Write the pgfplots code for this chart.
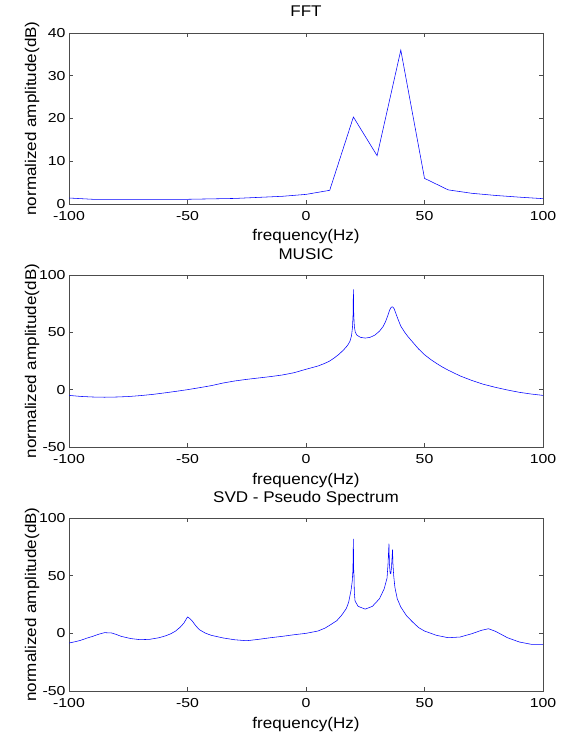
\documentclass[border=0pt]{standalone}
\usepackage{fontspec}
\setmainfont{Liberation Sans}
\newfontfamily\lblfont[FakeStretch=1.1]{Liberation Sans}
\newfontfamily\tickfont[FakeStretch=1.22]{Liberation Sans}
\usepackage{pgfplots}
\pgfplotsset{compat=1.18}
\begin{document}
\begin{tikzpicture}
\path[use as bounding box] (0pt,0pt) rectangle (564pt,-733pt);
\pgfplotsset{
  every axis/.append style={
    scale only axis, width=474pt,
    xmin=-100, xmax=100, xtick={-100,-50,0,50,100},
    tick align=inside, major tick length=4pt,
    /pgf/number format/assume math mode=true,
    tick label style={font=\tickfont\fontsize{13}{15}\selectfont},
    xticklabel style={yshift=-3.5pt},
    label style={font=\lblfont\fontsize{15.5}{18}\selectfont},
    title style={font=\lblfont\fontsize{15.5}{18}\selectfont, at={(axis description cs:0.5,1)}, anchor=base, yshift=10pt},
    xlabel={frequency(Hz)}, ylabel={normalized amplitude(dB)},
    xlabel style={at={(axis description cs:0.5,0)}, anchor=base, yshift=-37pt},
    ylabel style={at={(axis description cs:-0.078,0.5)}, anchor=center},
    axis line style={black!70, line width=0.6pt},
    every tick/.style={black!70, line width=0.6pt},
    anchor=north west,
  },
}
\begin{axis}[at={(69pt,-33pt)}, height=171pt, ymin=0, ymax=40, ytick={0,10,20,30,40}, title={FFT}]
\addplot[blue, line width=0.55pt] coordinates {
(-100,1.4)(-90,1.1)(-80,1.1)(-70,1.1)(-60,1.1)(-50,1.1)(-40,1.2)(-30,1.3)(-20,1.55)(-10,1.8)(0,2.25)(10,3.2)(20,20.35)(30,11.3)(40,36.0)(50,6.0)(60,3.3)(70,2.5)(80,2.0)(90,1.6)(100,1.25)};
\end{axis}
\begin{axis}[at={(69pt,-275pt)}, height=172pt, ymin=-50, ymax=100, ytick={-50,0,50,100}, title={MUSIC}]
\addplot[blue, line width=0.55pt] coordinates {
(-100,-5)(-95,-5.9)(-90,-6.4)(-85,-6.6)(-80,-6.4)(-75,-6)(-70,-5.2)(-65,-4.2)(-60,-2.9)(-55,-1.5)(-50,0)(-45,1.7)(-40,3.5)(-35,5.8)(-30,7.6)(-25,9)(-20,10.2)(-15,11.4)(-10,12.8)(-5,14.8)(0,17.8)(5,20.6)(8,23)(10,25)(12,27.8)(14,31)(16,35)(17.5,38.5)(18.5,42)(19.2,47)(19.6,54)(19.85,65)(20,87.5)(20.15,65)(20.4,55)(20.8,50)(21.5,47.5)(23,45.6)(25,45)(27,45.6)(29,47.5)(31,51)(32.5,55)(33.5,59)(34.5,64.5)(35.3,69.5)(36,72)(36.6,72.2)(37.2,70.5)(38,66)(39,60.5)(40,55.4)(41.5,50.5)(43,46.3)(45,41.5)(47.5,35.5)(50,30.5)(52.5,26.5)(55,23)(57.5,19.8)(60,17)(65,12)(70,8)(75,4.6)(80,2)(85,-0.3)(90,-2.3)(95,-3.8)(100,-5)};
\end{axis}
\begin{axis}[at={(69pt,-518pt)}, height=173pt, ymin=-50, ymax=100, ytick={-50,0,50,100}, title={SVD - Pseudo Spectrum}]
\addplot[blue, line width=0.55pt] coordinates {
(-100,-8.4)(-97.5,-7.3)(-95,-6)(-92.5,-4.2)(-90,-2.6)(-87.5,-0.8)(-85,0.6)(-82,0.3)(-80,-1)(-78,-2.6)(-74,-4.5)(-70,-5.5)(-66,-5.2)(-62,-3.8)(-59,-2)(-57,-0.3)(-55,2)(-53,5.5)(-51.5,9)(-50,14.2)(-49,12.8)(-48,10.7)(-46.5,6.5)(-45,3.2)(-42.5,0.2)(-40,-1.7)(-35,-4)(-30,-5.6)(-25,-6.4)(-20,-5.2)(-15,-3.8)(-10,-2.6)(-5,-1.2)(0,0)(5,2)(8,4.5)(10,7)(13,11)(15,15.6)(17,21.5)(18,27)(19,37.3)(19.5,45)(19.8,55)(20,82)(20.1,52)(20.2,55)(20.4,35)(20.7,28)(22,23.4)(25,21)(28,23.4)(31,30)(33,38.7)(34.2,48)(34.6,60)(34.8,69)(35,77.7)(35.2,60)(35.5,52)(35.8,51.7)(36.1,58)(36.5,72.5)(36.7,60)(37,50)(37.5,40)(38.5,30)(40,22.8)(42.5,15)(45,9.8)(47.5,5)(50,2)(55,-1.7)(60,-3.8)(65,-3.2)(70,-0.3)(74,2.6)(77,4)(80,1.7)(85,-3.8)(90,-7.5)(95,-9.5)(100,-9.5)};
\end{axis}
\end{tikzpicture}
\end{document}
